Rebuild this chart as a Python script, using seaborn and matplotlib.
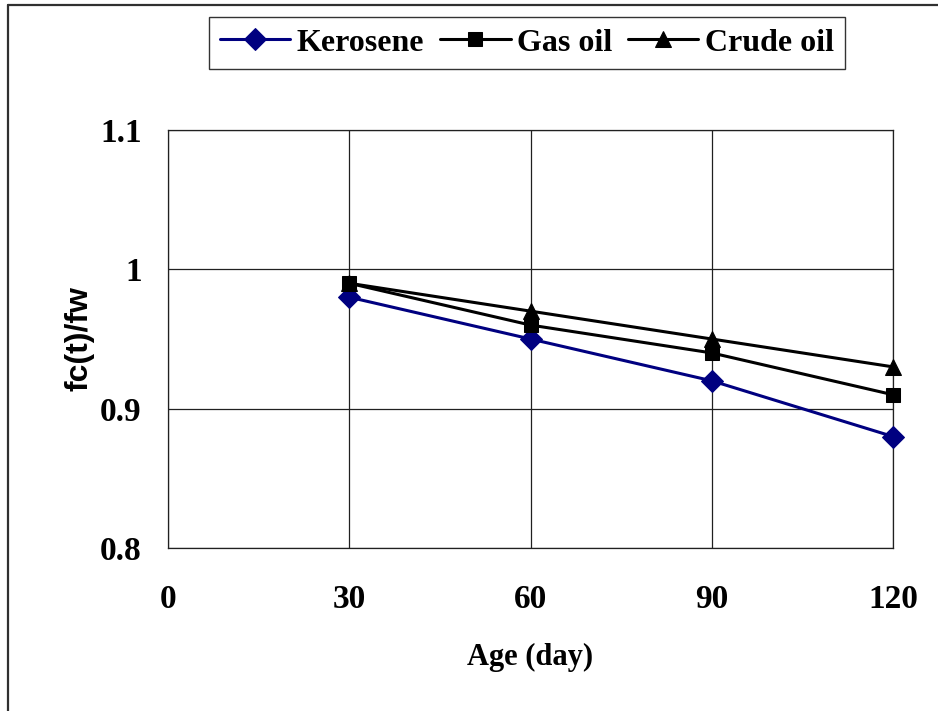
import matplotlib
matplotlib.use("Agg")
import matplotlib.pyplot as plt
import seaborn as sns
import pandas as pd
from matplotlib.lines import Line2D

age = [30, 60, 90, 120]
kerosene = [0.98, 0.95, 0.92, 0.88]
gas_oil = [0.99, 0.96, 0.94, 0.91]
crude_oil = [0.99, 0.97, 0.95, 0.93]
series_names = ["Kerosene", "Gas oil", "Crude oil"]
x_ticks = [0, 30, 60, 90, 120]
y_ticks = [0.8, 0.9, 1.0, 1.1]
y_tick_labels = ["0.8", "0.9", "1", "1.1"]

df = pd.DataFrame({
    "Age": age * 3,
    "val": kerosene + gas_oil + crude_oil,
    "series": [series_names[0]] * 4 + [series_names[1]] * 4 + [series_names[2]] * 4,
})

sns.set_style("white")
plt.rcParams["font.family"] = ["Liberation Serif", "DejaVu Serif"]
plt.rcParams["text.color"] = "black"
plt.rcParams["axes.labelcolor"] = "black"
plt.rcParams["xtick.color"] = "black"
plt.rcParams["ytick.color"] = "black"

fig = plt.figure(figsize=(9.38, 7.11), dpi=100)
ax = fig.add_axes([168/938, 1-548/711, (893-168)/938, (548-130)/711])

colors = {"Kerosene": "#000080", "Gas oil": "#000000", "Crude oil": "#000000"}
markers = {"Kerosene": "D", "Gas oil": "s", "Crude oil": "^"}
msize = {"Kerosene": 11, "Gas oil": 9.5, "Crude oil": 12}

for name in series_names:
    sub = df[df["series"] == name]
    sns.lineplot(data=sub, x="Age", y="val", ax=ax, color=colors[name],
                 marker=markers[name], markersize=msize[name], linewidth=2.2,
                 markeredgecolor=colors[name], markerfacecolor=colors[name],
                 label=name, zorder=3, clip_on=False)

ax.set_xlim(0, 120)
ax.set_ylim(0.8, 1.1)
ax.set_xticks(x_ticks)
ax.set_yticks(y_ticks)
ax.set_yticklabels(y_tick_labels)
ax.grid(True, color="#202020", linewidth=0.9)
for s in ax.spines.values():
    s.set_visible(True)
    s.set_color("#202020")
    s.set_linewidth(0.9)

ax.tick_params(axis="both", direction="out", length=7, width=0.8, color="black",
               labelsize=24, labelcolor="black")
ax.tick_params(axis="y", pad=12)
ax.tick_params(axis="x", pad=19)
for lab in ax.get_xticklabels() + ax.get_yticklabels():
    lab.set_fontweight("bold")

ax.set_xlabel("Age (day)", fontsize=22, fontweight="bold", labelpad=20, color="black")
ax.set_ylabel("fc(t)/fw", fontsize=23, fontweight="bold", labelpad=4, color="black",
              family=["Liberation Sans", "DejaVu Sans"])

if ax.get_legend():
    ax.get_legend().remove()
leg = fig.legend(*ax.get_legend_handles_labels(), loc="center",
                 bbox_to_anchor=(527/938, 1-43/711), ncol=3, frameon=True,
                 fancybox=False, edgecolor="black", handlelength=2.2,
                 handletextpad=0.2, columnspacing=0.5, borderpad=0.35,
                 prop={"family": "Liberation Serif", "weight": "bold", "size": 23})
leg.get_frame().set_linewidth(1.0)
for t in leg.get_texts():
    t.set_color("black")

fig.add_artist(Line2D([8/938, 8/938], [0, 1-5/711], color="#303030", linewidth=1.6,
                      transform=fig.transFigure))
fig.add_artist(Line2D([8/938, 1], [1-5/711, 1-5/711], color="#303030", linewidth=1.6,
                      transform=fig.transFigure))

fig.savefig("out.png", dpi=100)
